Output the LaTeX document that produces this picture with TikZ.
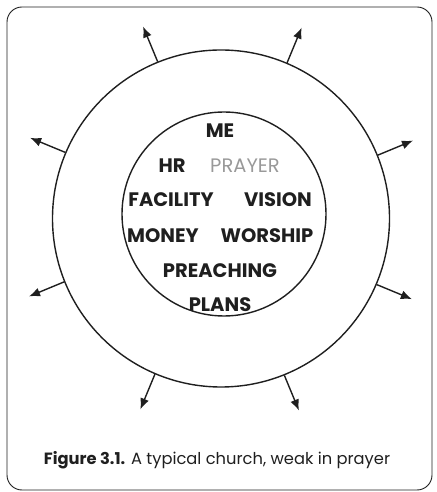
\documentclass[tikz,border=0pt]{standalone}
\usepackage{fontspec}
\setmainfont{Poppins}
\usepackage{xcolor}
\usepackage{tikz}
\usetikzlibrary{arrows.meta}

\definecolor{inkgray}{gray}{0.12}
\definecolor{fadedgray}{gray}{0.6}

\tikzset{
    word/.style={font=\fontsize{19.5}{20}\selectfont\bfseries, text=inkgray, inner sep=0pt},
    spoke/.style={line width=1.4pt, draw=inkgray, -{Latex[length=11pt,width=9pt]}},
}

\begin{document}
\begin{tikzpicture}[x=1pt, y=1pt]
    \useasboundingbox (0,0) rectangle (436,492);
    \node[draw=inkgray, line width=0.9pt, rounded corners=15pt, minimum width=425, minimum height=483] (frame) at (219.5,243.5) {};

    \node[draw=inkgray, circle, line width=1.4pt, minimum size=337, inner sep=0pt] (outer) at (221,273.5) {};
    \node[draw=inkgray, circle, line width=1.4pt, minimum size=204, inner sep=0pt] (inner) at (224,278) {};

    \foreach \a [count=\i] in {22.5,67.5,...,337.5}
        \draw[spoke] (outer.\a) -- ++(\a:38) coordinate (tip\i);

    \node[word] (me) at (220,361) {ME};
    \node[word] (hr) at (172,326) {HR};
    \node[word, font=\fontsize{19.5}{20}\selectfont, text=fadedgray] (prayer) at (245,326) {PRAYER};
    \node[word] (facility) at (171,292) {FACILITY};
    \node[word] (vision) at (278,292) {VISION};
    \node[word] (money) at (163,256) {MONEY};
    \node[word] (worship) at (267,256) {WORSHIP};
    \node[word] (preaching) at (220,221) {PREACHING};
    \node[word] (plans) at (220,187) {PLANS};

    \node[font=\fontsize{16.3}{17}\selectfont, text=inkgray] (caption) at (217,32) {\textbf{Figure 3.1.} A typical church, weak in prayer};
\end{tikzpicture}
\end{document}
